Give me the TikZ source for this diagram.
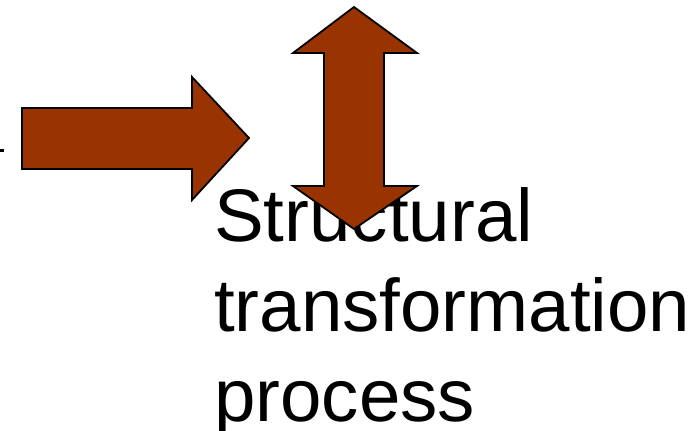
\documentclass[tikz,border=0pt]{standalone}
\usepackage{fontspec}
\setmainfont{Liberation Sans}
\usepackage{tikz}

\definecolor{rust}{HTML}{993300}

\begin{document}
\begin{tikzpicture}[x=1pt, y=-1pt,
    blockarrow/.style={fill=rust, draw=black, line width=1.8pt, line join=miter},
    label text/.style={inner sep=0pt, anchor=base west, font=\fontsize{74.5}{90}\selectfont}]
    \useasboundingbox (0,0) rectangle (697,431);
    \fill (0,148.5) rectangle (4,152);
    % caption lines
    \foreach \txt [count=\i] in {Structural, transformation, process} {
        \pgfmathsetmacro{\y}{241 + 90*(\i - 1)}
        \node [label text] (line\i) at (214, \y) {\txt};
    }
    % arrow pointing right
    \draw [blockarrow] (22,108) -- (192,108) -- (192,77) -- (249,138)
        -- (192,200) -- (192,169) -- (22,169) -- cycle;
    % arrow pointing up and down
    \draw [blockarrow] (354,7) -- (417,53) -- (384,53) -- (384,186) -- (417,186)
        -- (354,229) -- (293,186) -- (324,186) -- (324,53) -- (293,53) -- cycle;
\end{tikzpicture}
\end{document}
